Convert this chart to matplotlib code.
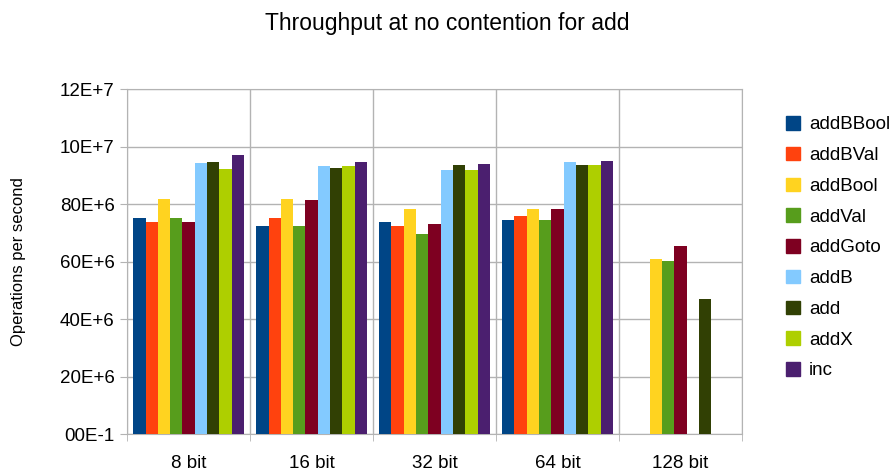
import numpy as np
import matplotlib.pyplot as plt
from matplotlib.patches import Patch

plt.rcParams['font.family'] = ['Liberation Sans', 'DejaVu Sans']

categories = ['8 bit', '16 bit', '32 bit', '64 bit', '128 bit']
series = ['addBBool', 'addBVal', 'addBool', 'addVal', 'addGoto', 'addB', 'add', 'addX', 'inc']
colors = ['#004586', '#ff420e', '#ffd320', '#579d1c', '#7e0021',
          '#83caff', '#314004', '#aecf00', '#4b1f6f']

nan = np.nan
# ops/sec, one list per series, in units of 1E+7
addBBool = [7.50, 7.25, 7.39, 7.43, nan]
addBVal  = [7.39, 7.50, 7.25, 7.60, nan]
addBool  = [8.16, 8.16, 7.81, 7.81, 6.08]
addVal   = [7.50, 7.25, 6.97, 7.43, 6.01]
addGoto  = [7.39, 8.13, 7.32, 7.81, 6.53]
addB     = [9.42, 9.31, 9.17, 9.45, nan]
add      = [9.45, 9.24, 9.35, 9.35, 4.69]
addX     = [9.21, 9.31, 9.17, 9.35, nan]
inc      = [9.70, 9.45, 9.38, 9.49, nan]
values = [addBBool, addBVal, addBool, addVal, addGoto, addB, add, addX, inc]

yticks = np.arange(0, 13e7, 2e7)
ytick_labels = ['00E-1', '20E+6', '40E+6', '60E+6', '80E+6', '10E+7', '12E+7']

fig = plt.figure(figsize=(8.95, 4.75), dpi=100)
ax = fig.add_axes([0.142, 0.0863, 0.687, 0.7263])

x = np.arange(len(categories))
w = 0.1
for i, (name, vals) in enumerate(zip(series, values)):
    v = np.array(vals) * 1e7
    ax.bar(x + (i - 4) * w, v, width=w, color=colors[i], label=name, zorder=3)

ax.set_xlim(-0.5, len(categories) - 0.5)
ax.set_ylim(0, 12e7)
ax.set_yticks(yticks)
ax.set_yticklabels(ytick_labels)
ax.set_xticks(x)
ax.set_xticklabels(categories)
ax.set_xticks(np.arange(-0.5, len(categories)), minor=True)

grid_c = '#b3b3b3'
ax.grid(axis='y', color=grid_c, lw=1, zorder=0)
ax.grid(axis='x', which='minor', color=grid_c, lw=1, zorder=0)
ax.tick_params(axis='x', which='major', length=0, pad=15, labelsize=13.5)
ax.tick_params(axis='x', which='minor', length=5, color=grid_c)
ax.tick_params(axis='y', length=5, color=grid_c, labelsize=13.5, pad=4)
for s in ax.spines.values():
    s.set_color(grid_c)

ax.set_ylabel('Operations per second', fontsize=12, labelpad=24)
fig.suptitle('Throughput at no contention for add', fontsize=16.5, y=0.975)

handles = [Patch(color=c) for c in colors]
fig.legend(handles, series, loc='upper left', bbox_to_anchor=(0.868, 0.775),
           frameon=False, fontsize=13.5, handlelength=0.72, handleheight=0.72,
           handletextpad=0.5, labelspacing=0.72, borderpad=0)

fig.savefig('out.png', dpi=100)
